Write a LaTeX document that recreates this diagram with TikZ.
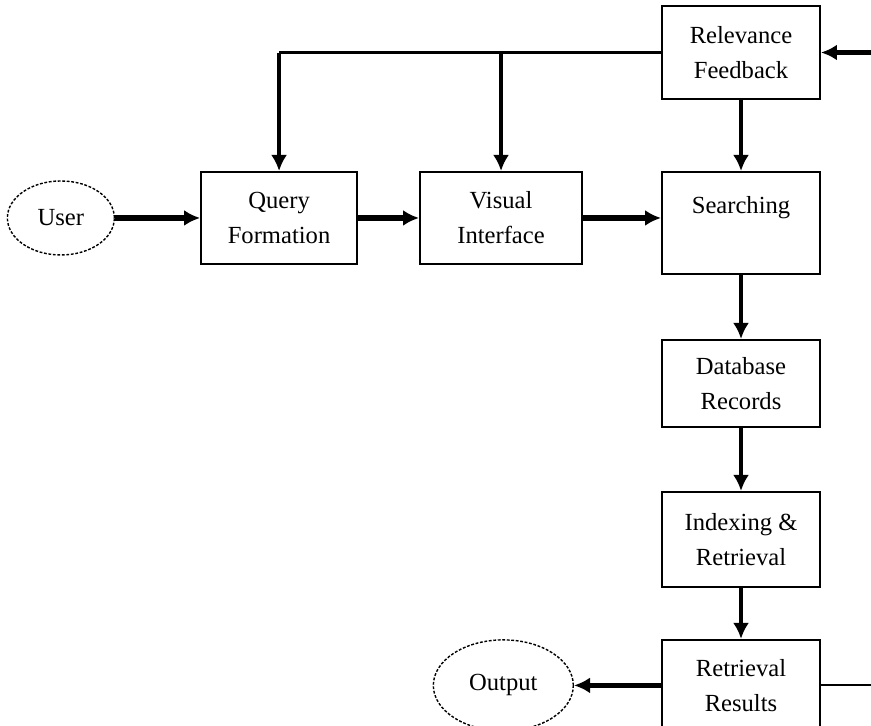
\documentclass[tikz,border=0pt]{standalone}
\usepackage{fontspec}
\setmainfont{Liberation Serif}
\usepackage{tikz}
\usetikzlibrary{arrows, positioning, arrows.meta, shapes.geometric}
\tikzstyle{block} = [draw, rectangle, line width=1.4pt, minimum width=3.95cm, align=center,
	font=\fontsize{17.5}{25}\selectfont]
\tikzstyle{oval} = [draw, ellipse, line width=1pt, dash pattern=on 2pt off 1.2pt, inner sep=0pt,
	font=\fontsize{17.5}{25}\selectfont]
\tikzstyle{flowArrow} = [line width=3pt, -{Latex[length=4mm,width=4mm]}]
\tikzstyle{thinLine} = [line width=1.5pt]

\begin{document}
\begin{tikzpicture}
		\useasboundingbox (0,0) rectangle (21.775,-18.125);
		% nodes
		\node[block, minimum height=2.325cm] (rf) at (18.525,-1.3125) {Relevance\\Feedback};	% oben rechts
		\node[block, minimum height=2.55cm, below=1.775cm of rf] (search) {Searching\\\mbox{}};
		\node[block, minimum height=2.175cm, below=1.6cm of search] (db) {Database\\Records};
		\node[block, minimum height=2.375cm, below=1.575cm of db] (ir) {Indexing \&\\Retrieval};
		\node[block, minimum height=2.275cm, below=1.275cm of ir] (rr) {Retrieval\\Results};
		\node[block, minimum width=4.05cm, minimum height=2.3cm, left=1.95cm of search.north west, anchor=north east] (vi) {Visual\\Interface};
		\node[block, minimum width=3.9cm, minimum height=2.3cm, left=1.525cm of vi] (qf) {Query\\Formation};
		\node[oval, minimum width=2.675cm, minimum height=1.85cm, left=2.125cm of qf] (user) {User};	% Eingang
		\node[oval, minimum width=3.5cm, minimum height=2.275cm, left=2.175cm of rr] (out) {Output};	% Ausgang
		\coordinate[right=1.25cm of rf.east] (fbin);		% Rueckfuehrung von rechts
		\coordinate[right=1.25cm of rr.east] (rrend);		% Leitung nach rechts
		
		% arrows
		\draw[flowArrow, line width=3.6pt] (user) -- (qf);
		\draw[flowArrow, line width=3.6pt] (qf) -- (vi);
		\draw[flowArrow, line width=3.6pt] (vi) -- (search.west |- vi);
		\draw[flowArrow] (rf) -- (search);
		\draw[flowArrow] (search) -- (db);
		\draw[flowArrow] (db) -- (ir);
		\draw[flowArrow] (ir) -- (rr);
		\draw[flowArrow, line width=3.2pt] (rr) -- (out);
		\draw[flowArrow, line width=3.6pt] (fbin) -- (rf.east);
		\draw[thinLine] (rr.east) -- (rrend);
		
		% feedback
		\draw[thinLine] (rf.west) -- (qf.north |- rf.west);
		\draw[flowArrow] (qf.north |- rf.west) -- (qf.north);
		\draw[flowArrow] (vi.north |- rf.west) -- (vi.north);
\end{tikzpicture}
\end{document}
